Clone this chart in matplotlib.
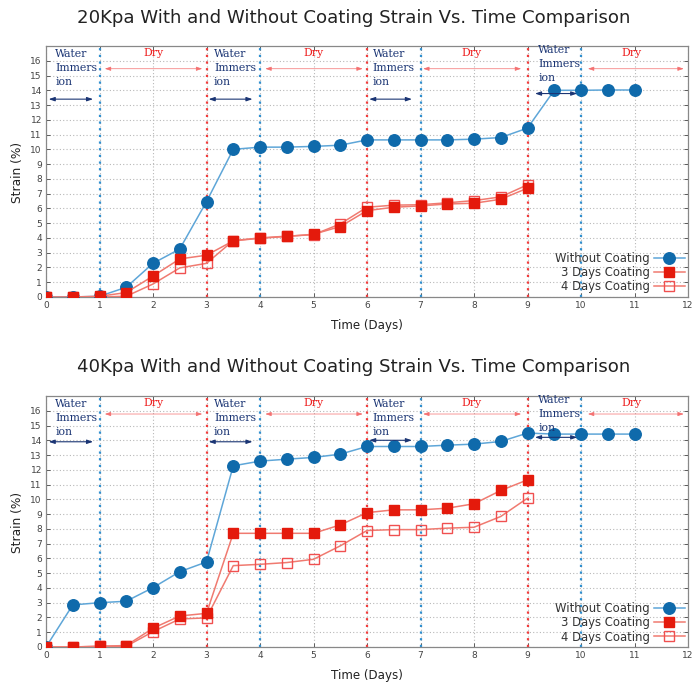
import matplotlib
matplotlib.use("Agg")
import matplotlib.pyplot as plt

# ---------------- data ----------------
days = [0, 0.5, 1, 1.5, 2, 2.5, 3, 3.5, 4, 4.5, 5, 5.5, 6, 6.5, 7, 7.5, 8, 8.5, 9, 9.5, 10, 10.5, 11]
days_coat = days[:19]

p20_without = [0, 0, 0.05, 0.66, 2.28, 3.25, 6.46, 10.0, 10.15, 10.15, 10.2, 10.28, 10.64, 10.64,
               10.64, 10.64, 10.69, 10.8, 11.44, 14.0, 14.0, 14.02, 14.02]
p20_3days = [0, 0, 0.05, 0.3, 1.42, 2.58, 2.83, 3.8, 3.98, 4.1, 4.25, 4.77, 5.85, 6.08, 6.17, 6.3,
             6.35, 6.62, 7.37]
p20_4days = [0, 0, 0, 0.05, 0.88, 1.97, 2.28, 3.82, 4.0, 4.12, 4.22, 4.95, 6.08, 6.22, 6.25, 6.38,
             6.53, 6.78, 7.6]

p40_without = [0, 2.85, 3.0, 3.1, 4.02, 5.1, 5.76, 12.27, 12.59, 12.72, 12.84, 13.06, 13.58, 13.58,
               13.58, 13.67, 13.74, 13.92, 14.49, 14.42, 14.42, 14.42, 14.42]
p40_3days = [0, 0, 0.05, 0.1, 1.27, 2.1, 2.28, 7.7, 7.7, 7.7, 7.7, 8.27, 9.1, 9.29, 9.29, 9.4, 9.7,
             10.6, 11.32]
p40_4days = [0, 0, 0.05, 0.05, 1.04, 1.9, 1.97, 5.51, 5.6, 5.72, 5.94, 6.85, 7.89, 7.95, 7.95, 8.05,
             8.11, 8.84, 10.08]

titles = ["20Kpa With and Without Coating Strain Vs. Time Comparison",
          "40Kpa With and Without Coating Strain Vs. Time Comparison"]
series_labels = ["Without Coating", "3 Days Coating", "4 Days Coating"]
blue_lines = [1, 4, 7, 10]
red_lines = [3, 6, 9]
water_x = [0.17, 3.14, 6.11, 9.2]
dry_x = [2.0, 5.0, 7.95, 10.95]
dry_arrows = [(1.1, 2.92), (4.1, 5.92), (7.05, 8.88), (10.13, 11.92)]
water_arrows = [(0.05, 0.88), (3.04, 3.86), (6.04, 6.84), (9.14, 9.93)]
water_arrow_y = [[13.4, 13.4, 13.4, 13.78], [13.9, 13.9, 14.0, 14.2]]
dry_arrow_y = [15.46, 15.78]

# ---------------- style ----------------
W, H = 693, 683
fig = plt.figure(figsize=(W / 100, H / 100), dpi=100)

BLUE_M = "#0f6aab"
BLUE_L = "#5ea6d8"
RED_M = "#e41a0c"
RED_L = "#f07a70"
NAVY = "#1b3574"
DRYRED = "#ee2020"

panels = [
    (p20_without, p20_3days, p20_4days),
    (p40_without, p40_3days, p40_4days),
]
axes_rect = [
    [46 / W, 1 - 297 / H, 642 / W, 251 / H],
    [46 / W, 1 - 647 / H, 642 / W, 251 / H],
]
title_y = [1 - 18 / H, 1 - 367 / H]
xlabel_y = [1 - 326 / H, 1 - 675 / H]
ylabel_y = [1 - 172 / H, 1 - 522 / H]

for i, (w, d3, d4) in enumerate(panels):
    ax = fig.add_axes(axes_rect[i])
    ax.set_xlim(0, 12)
    ax.set_ylim(0, 17)
    ax.set_xticks(range(0, 13))
    ax.set_yticks(range(0, 17))
    ax.grid(True, linestyle=(0, (1, 2)), color="#b8b8b8", lw=0.8)
    ax.set_axisbelow(True)
    ax.tick_params(direction="in", top=True, right=True, length=3, width=0.6,
                   labelsize=6.5, colors="#444444", pad=3)
    for s in ax.spines.values():
        s.set_color("#888888")
        s.set_linewidth(0.9)

    for xv in blue_lines:
        ax.axvline(xv, color="#2f8fcf", ls=(0, (1, 2)), lw=1.6, zorder=1.5)
    for xv in red_lines:
        ax.axvline(xv, color="#f03c3c", ls=(0, (1, 2)), lw=1.6, zorder=1.5)

    ax.plot(days, w, color=BLUE_L, lw=1.1, marker="o", ms=8.3, mfc=BLUE_M, mec=BLUE_M,
            label=series_labels[0], zorder=4)
    ax.plot(days_coat, d3, color=RED_L, lw=1.1, marker="s", ms=7.8, mfc=RED_M, mec=RED_M,
            label=series_labels[1], zorder=4)
    ax.plot(days_coat, d4, color=RED_L, lw=1.1, marker="s", ms=7.8, mfc="none", mec="#f05050",
            mew=1.0, label=series_labels[2], zorder=3.5)

    for k, xv in enumerate(water_x):
        ytop = 16.8 if k < 3 else 17.05
        ax.text(xv, ytop, "Water\nImmers\nion", family="DejaVu Serif", fontsize=7.8,
                color=NAVY, va="top", ha="left", linespacing=1.5, zorder=6)
    for k, xv in enumerate(dry_x):
        ax.text(xv, 16.5, "Dry", family="DejaVu Serif", fontsize=7.8, color=DRYRED,
                va="center", ha="center", zorder=6)
    for (a, b) in dry_arrows:
        ax.annotate("", xy=(a, dry_arrow_y[i]), xytext=(b, dry_arrow_y[i]),
                    arrowprops=dict(arrowstyle="<|-|>,head_length=0.35,head_width=0.12",
                                    color="#f47070", lw=0.5, shrinkA=0, shrinkB=0), zorder=5)
    for k, (a, b) in enumerate(water_arrows):
        yv = water_arrow_y[i][k]
        ax.annotate("", xy=(a, yv), xytext=(b, yv),
                    arrowprops=dict(arrowstyle="<|-|>,head_length=0.35,head_width=0.12",
                                    color=NAVY, lw=0.8, shrinkA=0, shrinkB=0), zorder=5)

    leg = ax.legend(loc="lower right", frameon=False, markerfirst=False, fontsize=8.4,
                    handlelength=2.6, borderaxespad=0.1, borderpad=0.2, labelspacing=0.1,
                    handletextpad=0.4)
    for t in leg.get_texts():
        t.set_color("#333333")
    leg.set_zorder(7)

    fig.text(0.511, title_y[i], titles[i], ha="center", va="center", fontsize=13.1,
             color="#222222")
    fig.text(367 / W, xlabel_y[i], "Time (Days)", ha="center", va="center", fontsize=8.6,
             color="#222222")
    fig.text(18 / W, ylabel_y[i], "Strain (%)", ha="center", va="center", fontsize=8.8,
             rotation=90, color="#222222")

fig.savefig("out.png", dpi=100)
